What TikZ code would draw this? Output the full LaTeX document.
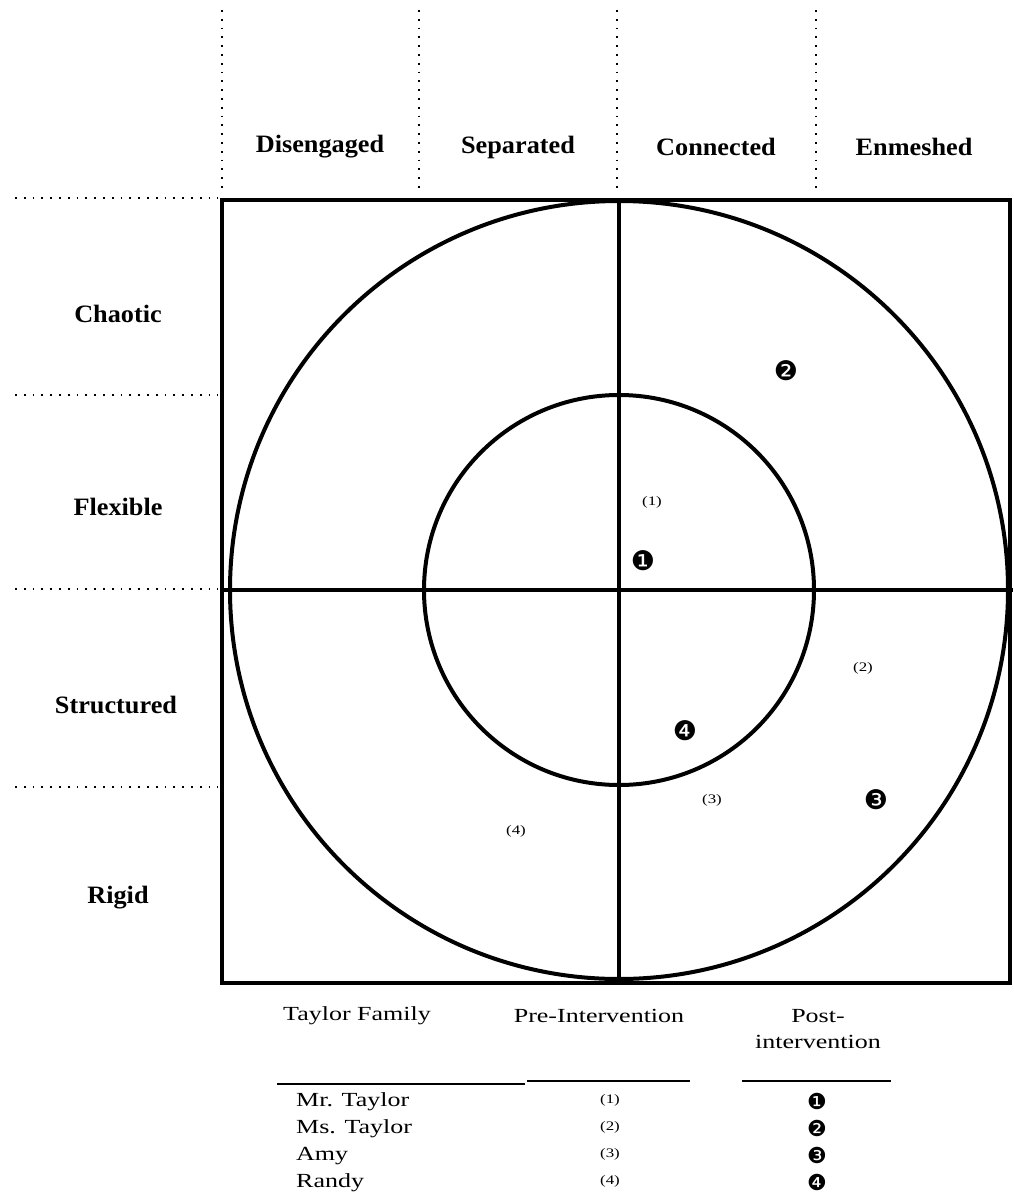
\documentclass[tikz,border=0pt]{standalone}
\usepackage{fontspec}
\setmainfont{Liberation Serif}
\newfontfamily\lblfont[FakeStretch=1.05]{Liberation Serif}
\newfontfamily\tabfont[FakeStretch=1.3]{Liberation Serif}
\newfontfamily\dingfont{DejaVu Sans}
\tikzset{
  lbl/.style={font=\lblfont\bfseries\fontsize{25}{30}\selectfont, inner sep=0pt},
  tab/.style={font=\tabfont\fontsize{20}{26}\selectfont, inner sep=0pt},
  postmark/.style={font=\dingfont\fontsize{27}{27}\selectfont, inner sep=0pt},
  tpostmark/.style={font=\dingfont\fontsize{22}{22}\selectfont, inner sep=0pt},
  premark/.style={font=\tabfont\fontsize{13}{13}\selectfont, inner sep=0pt},
  guide/.style={line width=1.5pt, dash pattern=on 1.8pt off 7pt},
  frame/.style={line width=4pt},
  rule/.style={line width=1.2pt}
}
\begin{document}
\begin{tikzpicture}[x=1pt, y=-1pt]
\useasboundingbox (0,0) rectangle (1013,1193);
% top dotted guides
\foreach \xx/\nm in {222/ga,419/gb,617/gc,816/gd}{
  \coordinate (\nm1) at (\xx,10);
  \coordinate (\nm2) at (\xx,193);
  \draw[guide] (\nm1) -- (\nm2);
}
% left dotted guides
\foreach \yy/\nm in {198/ha,395/hb,589/hc,787/hd}{
  \coordinate (\nm1) at (15,\yy);
  \coordinate (\nm2) at (218,\yy);
  \draw[guide] (\nm1) -- (\nm2);
}
% column labels
\node[lbl] (dis) at (320,147) {Disengaged};
\node[lbl] (sep) at (518,147) {Separated};
\node[lbl] (con) at (716,147) {Connected};
\node[lbl] (enm) at (914,147) {Enmeshed};
% row labels
\node[lbl] (cha) at (118,314) {Chaotic};
\node[lbl] (fle) at (118,507) {Flexible};
\node[lbl] (str) at (116,705) {Structured};
\node[lbl] (rig) at (118,898) {Rigid};
% frame
\draw[frame] (222,200) rectangle (1010,983);
\coordinate (c) at (619,590);
\draw[frame] (619,200) -- (619,983);
\draw[frame] (222,590) -- (1013,590);
\draw[frame] (c) circle[radius=389pt];
\draw[frame] (c) circle[radius=195pt];
% markers
\node[postmark] (q2) at (786,371) {❷};
\node[premark] (p1) at (652,502) {(1)};
\node[postmark] (q1) at (643,561) {❶};
\node[premark] (p2) at (863,668) {(2)};
\node[postmark] (q4) at (685,731) {❹};
\node[premark] (p3) at (712,800) {(3)};
\node[postmark] (q3) at (876,800) {❸};
\node[premark] (p4) at (516,831) {(4)};
% table
\node[tab, anchor=west] (th1) at (283,1016) {Taylor Family};
\node[tab] (th2) at (599,1016) {Pre-Intervention};
\node[tab, align=center] (th3) at (818,1029) {Post-\\intervention};
\coordinate (r1a) at (277,1084);
\coordinate (r1b) at (525,1084);
\coordinate (r2a) at (527,1081);
\coordinate (r2b) at (690,1081);
\coordinate (r3a) at (742,1081);
\coordinate (r3b) at (891,1081);
\draw[rule] (r1a) -- (r1b);
\draw[rule, line width=1.8pt] (r2a) -- (r2b);
\draw[rule] (r3a) -- (r3b);
\node[tab, anchor=west] (n1) at (296,1102) {Mr. Taylor};
\node[tab, anchor=west] (n2) at (296,1129) {Ms. Taylor};
\node[tab, anchor=west] (n3) at (296,1156) {Amy};
\node[tab, anchor=west] (n4) at (296,1183) {Randy};
\node[premark] (t1) at (610,1100) {(1)};
\node[premark] (t2) at (610,1127) {(2)};
\node[premark] (t3) at (610,1154) {(3)};
\node[premark] (t4) at (610,1181) {(4)};
\node[tpostmark] (u1) at (817,1101) {❶};
\node[tpostmark] (u2) at (817,1128) {❷};
\node[tpostmark] (u3) at (817,1155) {❸};
\node[tpostmark] (u4) at (817,1182) {❹};
\end{tikzpicture}
\end{document}
